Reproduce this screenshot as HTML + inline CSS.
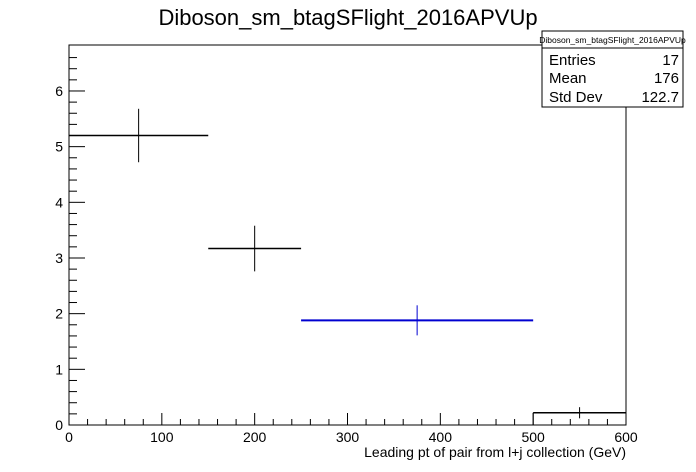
<!DOCTYPE html>
<html><head><meta charset="utf-8"><style>
body{margin:0;background:#fff}
svg{display:block;font-family:"Liberation Sans",sans-serif}
</style></head><body>
<svg id="c" width="696" height="472" xmlns="http://www.w3.org/2000/svg">
<rect x="0" y="0" width="696" height="472" fill="#fff"/>
<text x="348" y="25" text-anchor="middle" font-size="22">Diboson_sm_btagSFlight_2016APVUp</text>
<rect x="69" y="45" width="557" height="380" fill="none" stroke="#000"/>
<g id="axes"></g>
<g id="marks"></g>
<text x="626" y="457" text-anchor="end" font-size="14">Leading pt of pair from l+j collection (GeV)</text>
<g>
<rect x="542" y="31" width="141" height="76" fill="#fff" stroke="#000"/>
<line x1="542" y1="48" x2="683" y2="48" stroke="#000"/>
<text x="612.5" y="43" text-anchor="middle" font-size="8.5">Diboson_sm_btagSFlight_2016APVUp</text>
<text x="549" y="65" font-size="15">Entries</text><text x="679" y="65" text-anchor="end" font-size="15">17</text>
<text x="549" y="83" font-size="15">Mean</text><text x="679" y="83" text-anchor="end" font-size="15">176</text>
<text x="549" y="102" font-size="15">Std Dev</text><text x="679" y="102" text-anchor="end" font-size="15">122.7</text>
</g>
</svg>
<script>
const binEdges=[0,150,250,500,600];
const values=[5.2,3.17,1.88,0.22];
const errors=[0.48,0.41,0.27,0.1];
const colors=['#000','#000','#0000d0','#000'];
const xTicks=[0,100,200,300,400,500,600];
const yTicks=[0,1,2,3,4,5,6];
const NS='http://www.w3.org/2000/svg';
const X=v=>69+v*(557/600);
const Y=v=>425-v*55.67;
function mk(tag,attrs,parent){const e=document.createElementNS(NS,tag);for(const k in attrs)e.setAttribute(k,attrs[k]);parent.appendChild(e);return e;}
const ax=document.getElementById('axes'),mg=document.getElementById('marks');
for(let v=0;v<=600;v+=20){const major=v%100===0;const l=mk('line',{x1:X(v),x2:X(v),y1:425,y2:425-(major?12:6),stroke:'#000'},ax);

}
xTicks.forEach(v=>{const t=mk('text',{x:X(v),y:442,'text-anchor':'middle','font-size':14},ax);t.textContent=v;

});
for(let v=0;v<=6.8;v+=0.2){const major=Math.abs(v-Math.round(v))<1e-6;const l=mk('line',{x1:69,x2:69+(major?16:8),y1:Y(v),y2:Y(v),stroke:'#000'},ax);

}
yTicks.forEach(v=>{const t=mk('text',{x:63,y:Y(v)+5,'text-anchor':'end','font-size':14},ax);t.textContent=v;

});
values.forEach((v,i)=>{const x0=X(binEdges[i]),x1=X(binEdges[i+1]),xc=X((binEdges[i]+binEdges[i+1])/2);
const c=colors[i];const w=c==='#000'?1.5:2;
const h=mk('line',{x1:x0,x2:x1,y1:Y(v),y2:Y(v),stroke:c,'stroke-width':w},mg);


const e=mk('line',{x1:xc,x2:xc,y1:Y(v+errors[i]),y2:Y(v-errors[i]),stroke:c,'stroke-width':1},mg);


if(i===values.length-1){const s=mk('line',{x1:x0,x2:x0,y1:Y(v),y2:425,stroke:'#000'},mg);

}
});
</script>
</body></html>
